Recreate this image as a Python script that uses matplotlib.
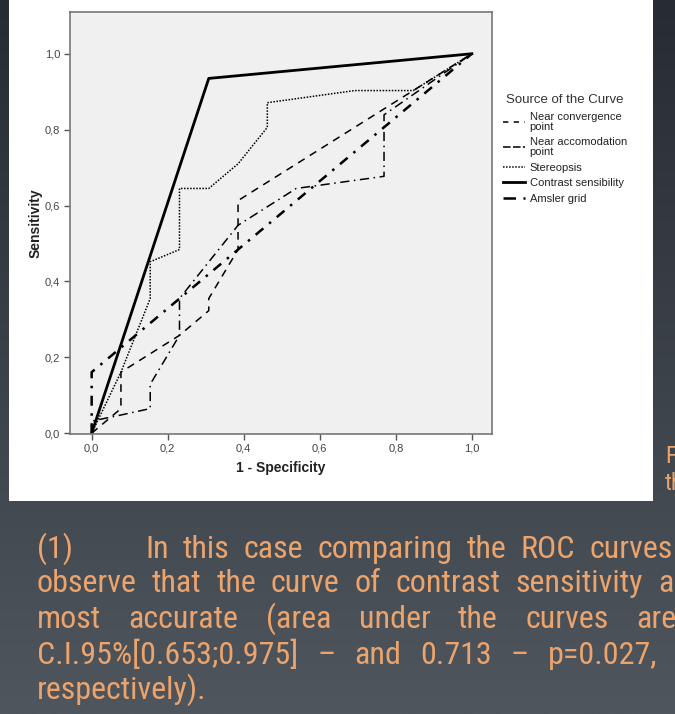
import matplotlib.pyplot as plt
import numpy as np
from matplotlib.lines import Line2D
from matplotlib.patches import Rectangle
from matplotlib.colors import LinearSegmentedColormap

# ROC points: (1 - specificity, sensitivity)
conv_x = [0, 0.077, 0.077, 0.231, 0.308, 0.308, 0.385, 0.385, 1.0]
conv_y = [0, 0.065, 0.161, 0.258, 0.323, 0.355, 0.484, 0.613, 1.0]

accom_x = [0, 0, 0.077, 0.154, 0.154, 0.231, 0.231, 0.385, 0.538, 0.769, 0.769, 1.0]
accom_y = [0, 0.032, 0.048, 0.065, 0.129, 0.258, 0.355, 0.548, 0.645, 0.677, 0.839, 1.0]

stereo_x = [0, 0.077, 0.154, 0.154, 0.231, 0.231, 0.308, 0.385, 0.462, 0.462, 0.692, 0.846, 1.0]
stereo_y = [0, 0.161, 0.355, 0.452, 0.484, 0.645, 0.645, 0.710, 0.806, 0.871, 0.903, 0.903, 1.0]

contrast_x = [0, 0.308, 1.0]
contrast_y = [0, 0.935, 1.0]

amsler_x = [0, 0, 1.0]
amsler_y = [0, 0.161, 1.0]

curve_labels = ["Near convergence\npoint", "Near accomodation\npoint", "Stereopsis",
                "Contrast sensibility", "Amsler grid"]
ticks = [0.0, 0.2, 0.4, 0.6, 0.8, 1.0]
tick_labels = ["0,0", "0,2", "0,4", "0,6", "0,8", "1,0"]

# slide text, one list of words per line
line1_num = "(1)"
line1 = "In this case comparing the ROC curves".split()
line2 = "observe that the curve of contrast sensitivity and".split()
line3 = "most accurate (area under the curves are".split()
line4 = ["C.I.95%[0.653;0.975]", "\u2013", "and", "0.713", "\u2013", "p=0.027,"]
line5 = "respectively)."

W, H = 675, 714
plt.rcParams['font.family'] = ['Liberation Sans', 'DejaVu Sans']
fig = plt.figure(figsize=(W / 100, H / 100), dpi=100)

# dark slide background
bg = fig.add_axes([0, 0, 1, 1], zorder=0)
grad = np.linspace(0, 1, 256).reshape(-1, 1)
cmap = LinearSegmentedColormap.from_list("bg", ["#262c32", "#4f565d"])
bg.imshow(grad, aspect='auto', cmap=cmap, extent=[0, 1, 0, 1])
bg.axis('off')

# white picture panel
fig.add_artist(Rectangle((9 / W, 1 - 501 / H), 644 / W, 501 / H + 0.01,
                         transform=fig.transFigure, facecolor='white',
                         edgecolor='none', zorder=1))

ax = fig.add_axes([70 / W, 1 - 434 / H, 422 / W, 422 / H], zorder=2)
ax.set_facecolor('#f0f0f0')

ax.plot(conv_x, conv_y, color='black', lw=1.1, dashes=(5, 4))
ax.plot(accom_x, accom_y, color='black', lw=1.1, dashes=(6, 3, 1, 3))
ax.plot(stereo_x, stereo_y, color='black', lw=1.1, dashes=(1, 1))
ax.plot(contrast_x, contrast_y, color='black', lw=2.0)
ax.plot(amsler_x, amsler_y, color='black', lw=1.8, dashes=(4, 3, 1, 3))

ax.set_xlim(-0.057, 1.053)
ax.set_ylim(-0.002, 1.11)
ax.set_xticks(ticks)
ax.set_xticklabels(tick_labels)
ax.set_yticks(ticks)
ax.set_yticklabels(tick_labels)
ax.tick_params(direction='out', length=4, width=1, color='#555555',
               labelsize=8, labelcolor='#444444', pad=3)
for s in ax.spines.values():
    s.set_color('#777777')
    s.set_linewidth(1.2)
ax.set_xlabel("1 - Specificity", fontsize=10, fontweight='bold', color='#222222', labelpad=5)
ax.set_ylabel("Sensitivity", fontsize=10, fontweight='bold', color='#222222', labelpad=2)

# legend samples drawn like the ones in the picture
handles = [
    Line2D([], [], color='black', lw=1.1, dashes=(3.5, 3.5)),
    Line2D([], [], color='black', lw=1.1, dashes=(5, 1.5)),
    Line2D([], [], color='black', lw=1.1, dashes=(1, 1)),
    Line2D([], [], color='black', lw=2.0),
    Line2D([], [], color='black', lw=1.8, dashes=(5, 3, 1, 3)),
]
leg = fig.legend(handles, curve_labels, loc='upper left',
                 bbox_to_anchor=(493 / W, 1 - 84 / H), frameon=False,
                 title="Source of the Curve", title_fontsize=9.5, fontsize=8,
                 handlelength=2.0, handletextpad=0.4, labelspacing=0.5)
leg.set_zorder(3)
for t in leg.get_texts():
    t.set_color('#222222')
    t.set_linespacing(1.0)
leg.get_title().set_color('#333333')

# orange slide text, justified word by word
r = fig.canvas.get_renderer()
txt = dict(family=['Roboto Condensed', 'Liberation Sans Narrow', 'Roboto'], fontsize=23,
           color='#eca46c', va='center', zorder=4)


def put_words(words, x0, x_last, y):
    items = [fig.text(0, 1 - y / H, w, **txt) for w in words]
    widths = [t.get_window_extent(r).width for t in items]
    gap = (x_last - x0 - sum(widths[:-1])) / max(len(words) - 1, 1)
    x = x0
    for t, w in zip(items, widths):
        t.set_x(x / W)
        x += w + gap


fig.text(37 / W, 1 - 549 / H, line1_num, **txt)
put_words(line1, 145, 589, 549)
put_words(line2, 37, 658, 583)
put_words(line3, 37, 636, 619)
put_words(line4, 37, 548, 655)
fig.text(37 / W, 1 - 690 / H, line5, **txt)

# clipped caption at the right edge of the slide
side = dict(txt, fontsize=17)
fig.text(665 / W, 1 - 457 / H, "F", **side)
fig.text(665 / W, 1 - 483 / H, "th", **side)

fig.savefig("out.png", dpi=100)
